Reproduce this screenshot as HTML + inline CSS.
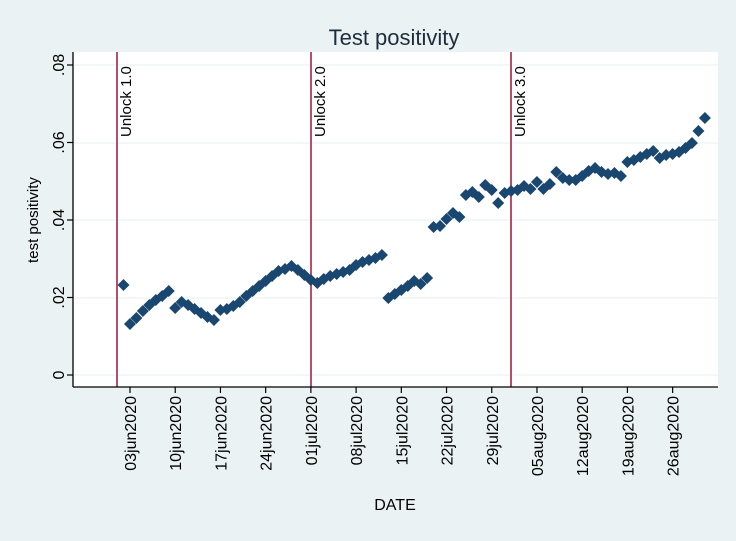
<!DOCTYPE html><html><head><style>body{margin:0;background:#eaf2f3;overflow:hidden}</style></head><body>
<svg width="736" height="541" xmlns="http://www.w3.org/2000/svg" font-family="Liberation Sans, sans-serif" style="display:block">
<rect width="736" height="541" fill="#eaf2f3"/>
<rect x="73" y="52" width="645" height="335" fill="#fff"/>
<g stroke="#eaf2f3" stroke-width="1.2">
<line x1="73" x2="718" y1="65" y2="65"/><line x1="73" x2="718" y1="143" y2="143"/><line x1="73" x2="718" y1="220" y2="220"/><line x1="73" x2="718" y1="298" y2="298"/><line x1="73" x2="718" y1="375" y2="375"/>
</g>
<text x="394" y="45" text-anchor="middle" font-size="22" fill="#1e2d3b">Test positivity</text>
<g stroke="#a0143c" stroke-width="1.5"><line x1="117" x2="117" y1="52" y2="387"/><line x1="311" x2="311" y1="52" y2="387"/><line x1="511" x2="511" y1="52" y2="387"/></g>
<g font-size="15" fill="#000">
<text transform="translate(131,137) rotate(-90)">Unlock 1.0</text>
<text transform="translate(325,137) rotate(-90)">Unlock 2.0</text>
<text transform="translate(525,137) rotate(-90)">Unlock 3.0</text>
</g>
<g stroke="#000" stroke-width="1.3"><line x1="73" x2="73" y1="52" y2="387"/><line x1="73" x2="718" y1="387" y2="387"/></g>
<g stroke="#000" stroke-width="1.2" id="yt"></g>
<g id="pts" fill="#1a476f"></g>
<g id="lab" font-size="16"></g>
<text transform="translate(38,220) rotate(-90)" text-anchor="middle" font-size="15">test positivity</text>
<text x="395" y="510" text-anchor="middle" font-size="16">DATE</text>
</svg>
<script>
var ns="http://www.w3.org/2000/svg";
function el(t,a,p,tx){var e=document.createElementNS(ns,t);for(var k in a)e.setAttribute(k,a[k]);if(tx)e.textContent=tx;document.getElementById(p).appendChild(e);}
var yl=["0",".02",".04",".06",".08"];
for(var i=0;i<5;i++){var y=375-77.5*i;el("line",{x1:67,x2:73,y1:y,y2:y},"yt");el("text",{transform:"translate(64,"+y+") rotate(-90)","text-anchor":"middle"},"lab",yl[i]);}
var xl=["03jun2020","10jun2020","17jun2020","24jun2020","01jul2020","08jul2020","15jul2020","22jul2020","29jul2020","05aug2020","12aug2020","19aug2020","26aug2020"];
for(var i=0;i<13;i++){var x=130+45.22*i;el("line",{x1:x,x2:x,y1:387,y2:393},"yt");el("text",{transform:"translate("+(x+6)+",396) rotate(-90)","text-anchor":"end"},"lab",xl[i]);}
var d=[285,324,318,311,305,300,296,291,308,302,305,309,313,317,320,310,309,306,302,296,291,286,281,276,271,269,266,270,275,
280,283,279,276,274,272,270,265,262,260,258,255,298,294,290,286,281,284,278,227,226,219,213,217,195,192,197,185,190,203,193,
191,190,186,189,182,189,184,172,178,180,180,176,171,168,172,174,173,176,162,160,157,154,151,158,155,154,152,148,143,131,118];
for(var i=0;i<d.length;i++){var x=123.5+6.46*i,y=d[i],r=6;el("polygon",{points:(x)+","+(y-r)+" "+(x+r)+","+y+" "+x+","+(y+r)+" "+(x-r)+","+y},"pts");}
</script>
</body></html>
